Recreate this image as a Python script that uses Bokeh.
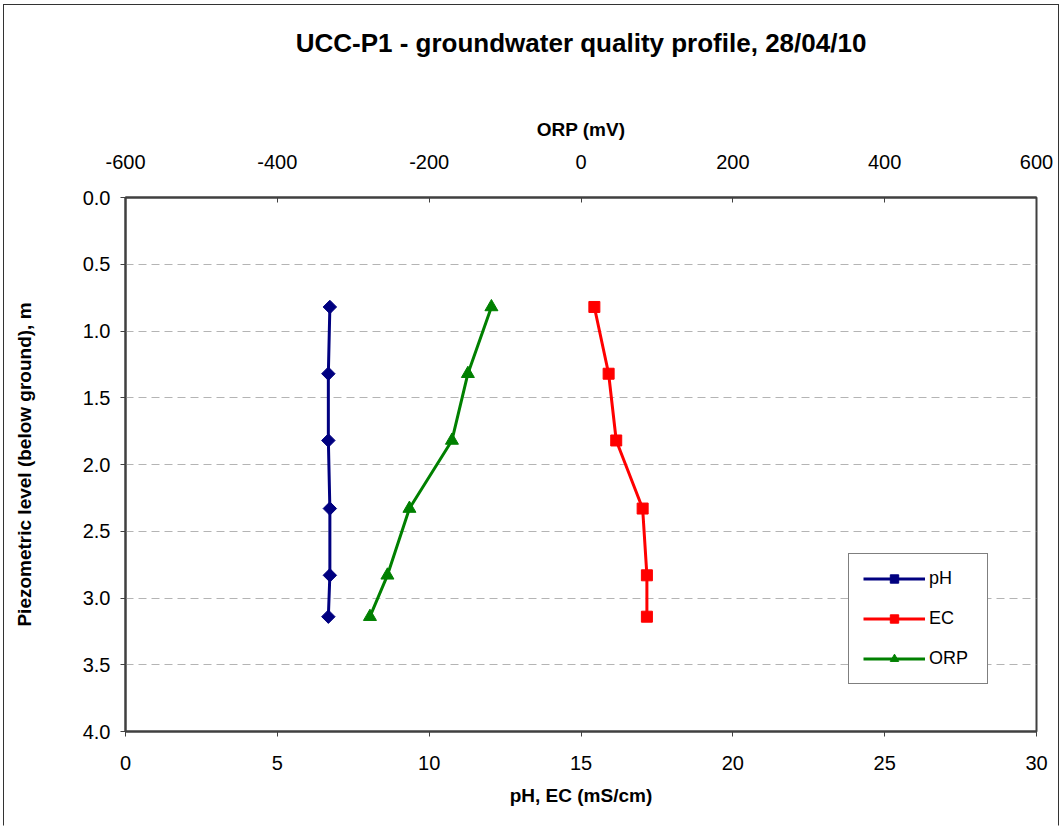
from bokeh.plotting import figure
from bokeh.models import (Range1d, LinearAxis, Legend, LegendItem, FixedTicker,
                          NumeralTickFormatter)
from bokeh.embed import file_html
from bokeh.resources import INLINE

# ---- data ----
depth = [0.82, 1.32, 1.82, 2.33, 2.83, 3.14]
ph = [6.73, 6.68, 6.68, 6.73, 6.73, 6.68]
ec = [15.44, 15.91, 16.16, 17.03, 17.17, 17.17]
orp = [-118, -149, -170, -226, -255, -278]

x_ticks = [0, 5, 10, 15, 20, 25, 30]
orp_ticks = [-600, -400, -200, 0, 200, 400, 600]
y_ticks = [0.0, 0.5, 1.0, 1.5, 2.0, 2.5, 3.0, 3.5, 4.0]

title_text = "UCC-P1 - groundwater quality profile, 28/04/10"
x_label = "pH, EC (mS/cm)"
orp_label = "ORP (mV)"
y_label = "Piezometric level (below ground), m"

FONT = "Liberation Sans"
AXC = "#404040"

p = figure(width=1056, height=822, output_backend="svg", toolbar_location=None,
           x_range=Range1d(0, 30), y_range=Range1d(4, 0),
           min_border_left=121, min_border_right=24, min_border_top=192,
           min_border_bottom=96)
p.styles = {"border-top": "1px solid #333333", "border-left": "1px solid #333333",
            "border-right": "1px solid #333333", "border-bottom": "1px solid white",
            "margin-left": "3px", "margin-top": "4px"}

p.outline_line_color = AXC
p.outline_line_width = 2
p.outline_line_alpha = 1

p.extra_x_ranges = {"orp": Range1d(-600, 600)}

def style_axis(ax, label_size="19px", tick_size="20px"):
    ax.axis_label_text_font = FONT
    ax.axis_label_text_font_style = "bold"
    ax.axis_label_text_font_size = label_size
    ax.axis_label_text_color = "black"
    ax.major_label_text_font = FONT
    ax.major_label_text_font_size = tick_size
    ax.major_label_text_color = "black"
    ax.axis_line_color = AXC
    ax.axis_line_width = 2
    ax.major_tick_line_color = AXC
    ax.major_tick_line_width = 1
    ax.minor_tick_line_color = None

# bottom axis
xa = p.xaxis[0]
xa.ticker = FixedTicker(ticks=x_ticks)
xa.formatter = NumeralTickFormatter(format="0")
xa.axis_label = x_label
style_axis(xa)
xa.major_tick_in = 0
xa.major_tick_out = 5
xa.major_label_standoff = 19
xa.axis_label_standoff = 12

# left axis
ya = p.yaxis[0]
ya.ticker = FixedTicker(ticks=y_ticks)
ya.formatter = NumeralTickFormatter(format="0.0")
ya.axis_label = y_label
style_axis(ya)
ya.major_tick_in = 0
ya.major_tick_out = 5
ya.major_label_standoff = 10
ya.axis_label_standoff = 45

# top axis (ORP)
ta = LinearAxis(x_range_name="orp", ticker=FixedTicker(ticks=orp_ticks),
                formatter=NumeralTickFormatter(format="0"))
ta.axis_label = orp_label
style_axis(ta)
ta.major_tick_in = 5
ta.major_tick_out = 0
ta.major_label_standoff = 29
ta.axis_label_standoff = 12
p.add_layout(ta, "above")

# chart title, carried by a tick-less axis stacked above the ORP axis
tt = LinearAxis(ticker=FixedTicker(ticks=[]), axis_label=title_text)
tt.axis_label_text_font = FONT
tt.axis_label_text_font_style = "bold"
tt.axis_label_text_font_size = "26px"
tt.axis_label_text_color = "black"
tt.axis_line_color = None
tt.major_tick_line_color = None
tt.minor_tick_line_color = None
tt.major_label_text_font_size = "0px"
tt.major_tick_in = 0
tt.major_tick_out = 0
tt.major_label_standoff = 0
tt.axis_label_standoff = 58
p.add_layout(tt, "above")

p.xgrid.grid_line_color = None
p.ygrid.ticker = FixedTicker(ticks=y_ticks)
p.ygrid.grid_line_color = "#b4b4b4"
p.ygrid.grid_line_dash = "8 5"
p.ygrid.grid_line_width = 1

# series
l_ph = p.line(ph, depth, line_color="#000080", line_width=3)
m_ph = p.scatter(ph, depth, marker="square", angle=0.785398, size=9.5,
                 fill_color="#000080", line_color="#000080")
l_ec = p.line(ec, depth, line_color="#ff0000", line_width=3)
m_ec = p.scatter(ec, depth, marker="square", size=11,
                 fill_color="#ff0000", line_color="#ff0000")
l_orp = p.line(orp, depth, line_color="#008000", line_width=3, x_range_name="orp")
m_orp = p.scatter(orp, depth, marker="triangle", size=13, x_range_name="orp",
                  fill_color="#008000", line_color="#008000")

legend = Legend(items=[
    LegendItem(label="pH", renderers=[l_ph, m_ph]),
    LegendItem(label="EC", renderers=[l_ec, m_ec]),
    LegendItem(label="ORP", renderers=[l_orp, m_orp]),
], location=(723, 47))
legend.label_text_font = FONT
legend.label_text_font_size = "18px"
legend.label_text_color = "black"
legend.glyph_width = 62
legend.glyph_height = 21
legend.label_height = 21
legend.label_width = 44
legend.label_standoff = 4
legend.spacing = 19
legend.padding = 14
legend.margin = 0
legend.border_line_color = "black"
legend.border_line_width = 1
legend.background_fill_color = "white"
legend.background_fill_alpha = 1
p.add_layout(legend)

open("out.html", "w").write(file_html(p, INLINE))
